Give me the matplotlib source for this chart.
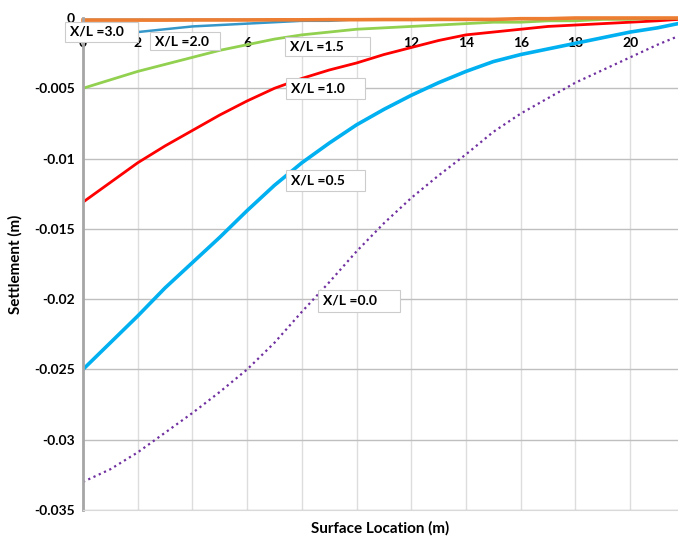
import numpy as np
import matplotlib
matplotlib.use('Agg')
import matplotlib.pyplot as plt
from matplotlib.ticker import FuncFormatter
from matplotlib.patches import Rectangle

plt.rcParams['font.family'] = ['Lato', 'DejaVu Sans']
plt.rcParams['axes.unicode_minus'] = False

# Surface location (m)
x = [0, 1, 2, 3, 4, 5, 6, 7, 8, 9, 10, 11, 12, 13, 14, 15, 16, 17, 18, 19, 20, 21, 21.75]

# settlement (m) for each X/L
s_00 = [-0.0330, -0.0321, -0.0309, -0.0295, -0.0281, -0.0266, -0.0250, -0.0231, -0.0209, -0.0188,
        -0.0166, -0.0146, -0.0128, -0.0112, -0.0097, -0.0081, -0.0068, -0.0057, -0.0046, -0.0037,
        -0.0028, -0.0019, -0.0013]
s_05 = [-0.0250, -0.0231, -0.0212, -0.0192, -0.0174, -0.0156, -0.0137, -0.0119, -0.0103, -0.0089,
        -0.0076, -0.0065, -0.0055, -0.0046, -0.0038, -0.0031, -0.0026, -0.0022, -0.0018, -0.0014,
        -0.0010, -0.0007, -0.0004]
s_10 = [-0.0131, -0.0117, -0.0103, -0.0091, -0.0080, -0.0069, -0.0059, -0.0050, -0.0043, -0.0037,
        -0.0032, -0.0026, -0.0021, -0.0016, -0.0012, -0.0010, -0.0008, -0.0006, -0.0005, -0.0004,
        -0.0003, -0.0002, -0.0001]
s_15 = [-0.0050, -0.0044, -0.0038, -0.0033, -0.0028, -0.0023, -0.0019, -0.0015, -0.0012, -0.0010,
        -0.0008, -0.0007, -0.0006, -0.0005, -0.0004, -0.0003, -0.0003, -0.0002, -0.0002, -0.0001,
        -0.0001, 0.0, 0.0]
s_20 = [-0.0013, -0.0012, -0.0010, -0.0008, -0.0006, -0.0005, -0.0004, -0.0003, -0.0002, -0.0002,
        -0.0001, -0.0001, -0.0001, -0.0001, 0.0, 0.0, 0.0, 0.0, 0.0, 0.0,
        0.0, 0.0, 0.0]
s_30 = [-0.00015, -0.00015, -0.00015, -0.00015, -0.00014, -0.00014, -0.00014, -0.00013, -0.00013, -0.00012,
        -0.00012, -0.00011, -0.00011, -0.0001, -0.0001, -0.0001, -0.00005, -0.00005, 0.0, 0.0,
        0.0, 0.0, 0.0]

labels = ['X/L =3.0', 'X/L =2.0', 'X/L =1.5', 'X/L =1.0', 'X/L =0.5', 'X/L =0.0']
xticks = [0, 2, 4, 6, 8, 10, 12, 14, 16, 18, 20]
yticks = [0, -0.005, -0.01, -0.015, -0.02, -0.025, -0.03, -0.035]

fig = plt.figure(figsize=(6.78, 5.38), dpi=100)
ax = fig.add_axes([83/678, 1-510/538, 1-83/678, (510-18)/538])

ax.plot(x, s_00, color='#7030A0', lw=1.6, ls=(0, (1, 1.6)))
ax.plot(x, s_05, color='#00B0F0', lw=2.6)
ax.plot(x, s_10, color='#FF0000', lw=2.0)
ax.plot(x, s_15, color='#92D050', lw=2.0)
ax.plot(x, s_20, color='#3596C8', lw=1.8)
ax.plot(x, s_30, color='#ED7D31', lw=2.6, clip_on=False)

ax.set_xlim(0, 21.75)
ax.set_ylim(-0.035, 0)
ax.set_xticks(xticks)
ax.set_yticks(yticks)
ax.yaxis.set_major_formatter(FuncFormatter(lambda v, p: '0' if abs(v) < 1e-12 else '%g' % v))

# x labels sit just under the zero line, as in the excel sheet
ax.tick_params(axis='x', top=True, labeltop=True, bottom=False, labelbottom=False,
               length=0, pad=-22, labelsize=10)
ax.tick_params(axis='y', length=0, pad=6, labelsize=10)
for t in ax.get_xticklabels() + ax.get_yticklabels():
    t.set_fontweight('bold')

ax.grid(axis='y', color='#BFBFBF', lw=1.0)
ax.grid(axis='x', color='#DDDDDD', lw=1.0)
ax.set_axisbelow(True)
ax.spines['top'].set_visible(False)
ax.spines['right'].set_visible(False)
ax.spines['left'].set_color('#A6A6A6')
ax.spines['left'].set_linewidth(2)
ax.spines['bottom'].set_color('#D9D9D9')

ax.set_xlabel('Surface Location (m)', fontsize=11, fontweight='bold', labelpad=8)
ax.set_ylabel('Settlement (m)', fontsize=11, fontweight='bold', labelpad=8)

# curve label boxes: (x0, x1, ytop, ybottom) in data units
boxes = [(-0.66, 2.01, -0.00028, -0.00171),
         (2.45, 5.01, -0.0010, -0.00228),
         (7.38, 10.49, -0.00135, -0.0027),
         (7.42, 10.31, -0.00427, -0.00576),
         (7.42, 10.31, -0.01081, -0.0123),
         (8.59, 11.59, -0.01935, -0.0209)]
for txt, (x0, x1, yt, yb) in zip(labels, boxes):
    ax.add_patch(Rectangle((x0, yb), x1 - x0, yt - yb, fc='white', ec='#CCCCCC', lw=0.8,
                           zorder=5, clip_on=False))
    ax.text(x0 + 0.2, (yt + yb) / 2, txt, fontsize=10, fontweight='bold', va='center', ha='left',
            zorder=6, clip_on=False)

plt.savefig('out.png', dpi=100)
